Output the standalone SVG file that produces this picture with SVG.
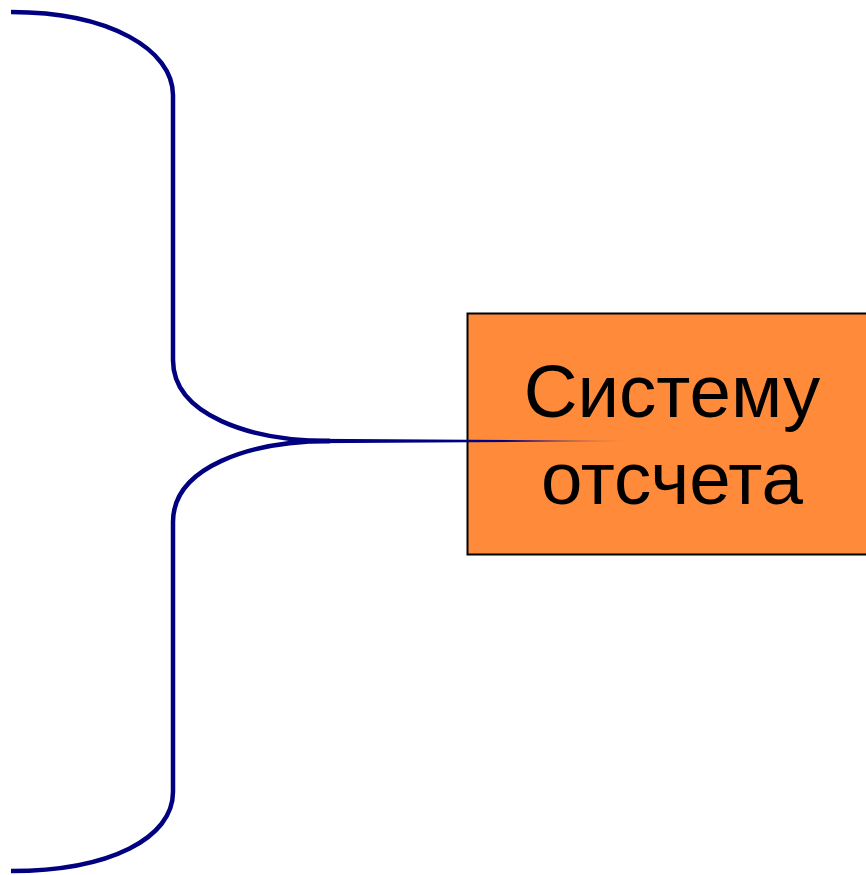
<svg xmlns="http://www.w3.org/2000/svg" width="866" height="875" viewBox="0 0 866 875">
<defs>
<style>
.brace{fill:none;stroke:#000080;stroke-width:4.5;stroke-linecap:butt}
.box{fill:#FF8A3A;stroke:#000000;stroke-width:2}
.lbl{font-family:"Liberation Sans",Arial,sans-serif;font-size:74.5px;fill:#000000;text-anchor:middle}
</style>
<linearGradient id="fade" x1="300" y1="0" x2="636" y2="0" gradientUnits="userSpaceOnUse">
<stop offset="0" stop-color="#000080"/>
<stop offset="0.6" stop-color="#000080"/>
<stop offset="1" stop-color="#000080" stop-opacity="0"/>
</linearGradient>
</defs>
<g id="box">
<rect class="box" x="467.5" y="313.5" width="402" height="241"/>
<text class="lbl" x="672" y="417">Систему</text>
<text class="lbl" x="672" y="504">отсчета</text>
</g>
<g id="connectors">
<path class="brace" d="M11,12 C110,12 173,50 173,95 L173,360 C173,415 250,441 330,441"/>
<path class="brace" d="M330,441 C250,441 173,467 173,522 L173,792 C173,838 110,871 11,871"/>
<polygon points="310,438.7 636,441 310,443.3" fill="url(#fade)"/>
</g>
</svg>
